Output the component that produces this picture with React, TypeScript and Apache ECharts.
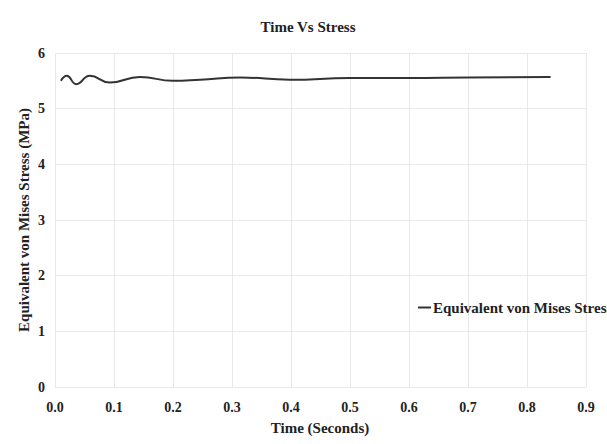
import React, { useEffect, useRef } from "react";
import * as echarts from "echarts";

const timeSeconds = [0.01, 0.02, 0.036, 0.059, 0.093, 0.144, 0.2, 0.246, 0.314, 0.398, 0.5, 0.6, 0.7, 0.84];
const stressMPa = [5.5, 5.59, 5.44, 5.59, 5.47, 5.57, 5.5, 5.52, 5.56, 5.52, 5.55, 5.55, 5.56, 5.57];
const seriesName = "Equivalent von Mises Stress";
const chartTitle = "Time Vs Stress";
const xAxisTitle = "Time (Seconds)";
const yAxisTitle = "Equivalent von Mises Stress (MPa)";

const FONT = "'Liberation Serif', 'Times New Roman', serif";

export default function App() {
  const ref = useRef<HTMLDivElement>(null);
  useEffect(() => {
    if (!ref.current) return;
    const chart = echarts.init(ref.current, null, { renderer: "svg" });
    const data = timeSeconds.map((t, i) => [t, stressMPa[i]]);
    chart.setOption({
      animation: false,
      backgroundColor: "#ffffff",
      grid: { left: 55, right: 21, top: 53, bottom: 57, containLabel: false },
      xAxis: {
        type: "value",
        min: 0,
        max: 0.9,
        interval: 0.1,
        axisLine: { show: false },
        axisTick: { show: false },
        axisLabel: {
          margin: 13,
          color: "#222",
          fontFamily: FONT,
          fontWeight: "bold",
          fontSize: 14,
          formatter: (v: number) => v.toFixed(1),
        },
        splitLine: { show: true, lineStyle: { color: "#e8e8e8", width: 1 } },
      },
      yAxis: {
        type: "value",
        min: 0,
        max: 6,
        interval: 1,
        axisLine: { show: false },
        axisTick: { show: false },
        axisLabel: {
          margin: 10,
          color: "#222",
          fontFamily: FONT,
          fontWeight: "bold",
          fontSize: 14,
        },
        splitLine: { show: true, lineStyle: { color: "#e8e8e8", width: 1 } },
      },
      legend: {
        left: 413,
        top: 295,
        icon: "rect",
        itemWidth: 13,
        itemHeight: 2,
        itemGap: 2,
        data: [seriesName],
        textStyle: {
          color: "#222",
          fontFamily: FONT,
          fontWeight: "bold",
          fontSize: 15,
          padding: [0, 0, 0, -3],
        },
      },
      graphic: [
        {
          type: "text",
          x: 308,
          y: 27,
          style: {
            text: chartTitle,
            fill: "#222",
            font: `bold 15px ${FONT}`,
            align: "center",
            verticalAlign: "middle",
          },
        },
        {
          type: "text",
          x: 320,
          y: 428,
          style: {
            text: xAxisTitle,
            fill: "#222",
            font: `bold 15px ${FONT}`,
            align: "center",
            verticalAlign: "middle",
          },
        },
        {
          type: "text",
          x: 24,
          y: 220,
          rotation: Math.PI / 2,
          style: {
            text: yAxisTitle,
            fill: "#222",
            font: `bold 15px ${FONT}`,
            align: "center",
            verticalAlign: "middle",
          },
        },
      ],
      series: [
        {
          name: seriesName,
          type: "line",
          data,
          smooth: 0.5,
          showSymbol: false,
          lineStyle: { color: "#333", width: 2 },
          itemStyle: { color: "#333" },
        },
      ],
    });
    return () => chart.dispose();
  }, []);
  return (
    <div
      ref={ref}
      style={{ position: "absolute", left: 0, top: 0, width: 607, height: 444 }}
    />
  );
}
